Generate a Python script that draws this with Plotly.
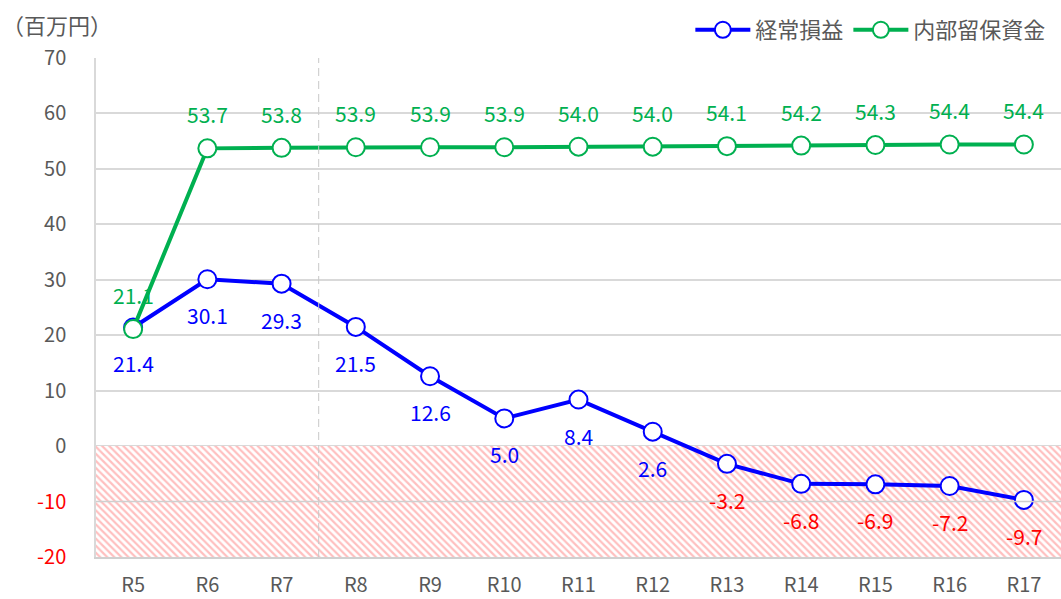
import plotly.graph_objects as go

# %%
years = ["R5", "R6", "R7", "R8", "R9", "R10", "R11", "R12", "R13", "R14", "R15", "R16", "R17"]
keijo = [21.4, 30.1, 29.3, 21.5, 12.6, 5.0, 8.4, 2.6, -3.2, -6.8, -6.9, -7.2, -9.7]
naibu = [21.1, 53.7, 53.8, 53.9, 53.9, 53.9, 54.0, 54.0, 54.1, 54.2, 54.3, 54.4, 54.4]
y_ticks = [70, 60, 50, 40, 30, 20, 10, 0, -10, -20]

BLUE = "#0000ff"
GREEN = "#00b050"
RED = "#ff0000"
GRAY = "#595959"
FONT = "Noto Sans CJK JP"

xs = list(range(len(years)))

fig = go.Figure()

# hatched negative zone
fig.add_trace(
    go.Scatter(
        x=[-0.5, len(years) - 0.5, len(years) - 0.5, -0.5, -0.5],
        y=[0, 0, -20, -20, 0],
        mode="lines",
        line={"width": 0},
        fill="toself",
        fillcolor="rgba(0,0,0,0)",
        fillpattern={
            "shape": "\\",
            "fgcolor": "#ff8080",
            "bgcolor": "white",
            "size": 5,
            "solidity": 0.45,
        },
        showlegend=False,
        hoverinfo="skip",
    )
)

marker_common = {"size": 18, "color": "white", "symbol": "circle"}

fig.add_trace(
    go.Scatter(
        x=xs,
        y=keijo,
        name="経常損益",
        mode="lines+markers",
        line={"color": BLUE, "width": 4},
        marker={**marker_common, "line": {"color": BLUE, "width": 2}},
    )
)
fig.add_trace(
    go.Scatter(
        x=xs,
        y=naibu,
        name="内部留保資金",
        mode="lines+markers",
        line={"color": GREEN, "width": 4},
        marker={**marker_common, "line": {"color": GREEN, "width": 2}},
    )
)

# data labels
for x, v in zip(xs, keijo):
    fig.add_annotation(
        x=x, y=v, text=f"{v:.1f}", showarrow=False, yshift=-36,
        font={"color": RED if v < 0 else BLUE, "size": 21, "family": FONT},
    )
for x, v in zip(xs, naibu):
    fig.add_annotation(
        x=x, y=v, text=f"{v:.1f}", showarrow=False, yshift=34,
        font={"color": GREEN, "size": 21, "family": FONT},
    )

# unit label
fig.add_annotation(
    x=-0.1, y=1.068, xref="paper", yref="paper", xanchor="left", yanchor="middle",
    text="（百万円）", showarrow=False, font={"color": GRAY, "size": 22, "family": FONT},
)

# dashed separator between R7 and R8, gridline over hatch
fig.add_shape(
    type="line", x0=2.5, x1=2.5, y0=-20, y1=70,
    line={"color": "#c8c8c8", "width": 1, "dash": "8px,5px"}, layer="above",
)
fig.add_shape(
    type="line", x0=-0.5, x1=len(years) - 0.5, y0=-10, y1=-10,
    line={"color": "#cfcfcf", "width": 1.5}, layer="above",
)

tick_text = [
    f'<span style="color:{RED}">{t}</span>' if t < 0 else str(t) for t in y_ticks
]

fig.update_layout(
    width=1061,
    height=599,
    margin={"l": 96, "r": 0, "t": 58, "b": 42, "autoexpand": False},
    plot_bgcolor="white",
    paper_bgcolor="white",
    font={"family": FONT, "color": GRAY},
    legend={
        "orientation": "h",
        "x": 0.99,
        "xanchor": "right",
        "y": 0.985,
        "yref": "container",
        "yanchor": "top",
        "font": {"size": 22, "color": GRAY},
        "itemwidth": 55,
    },
    xaxis={
        "range": [-0.5, len(years) - 0.5],
        "tickvals": xs,
        "ticktext": years,
        "showgrid": False,
        "zeroline": False,
        "automargin": False,
        "tickfont": {"size": 20, "color": GRAY},
        "ticklabelstandoff": 9,
        "showline": True,
        "linecolor": "#d0d0d0",
        "linewidth": 1.5,
    },
    yaxis={
        "range": [-20, 70],
        "tickvals": y_ticks,
        "ticktext": tick_text,
        "showgrid": True,
        "gridcolor": "#d9d9d9",
        "gridwidth": 1.5,
        "zeroline": False,
        "automargin": False,
        "tickfont": {"size": 20, "color": GRAY},
        "ticklabelstandoff": 24,
        "showline": True,
        "linecolor": "#d9d9d9",
        "linewidth": 1.5,
    },
)

# page body has a default margin that would push the figure off its frame
fig.write_html(
    "out.html",
    config={"displayModeBar": False},
    post_script="document.body.style.margin='0';",
)
